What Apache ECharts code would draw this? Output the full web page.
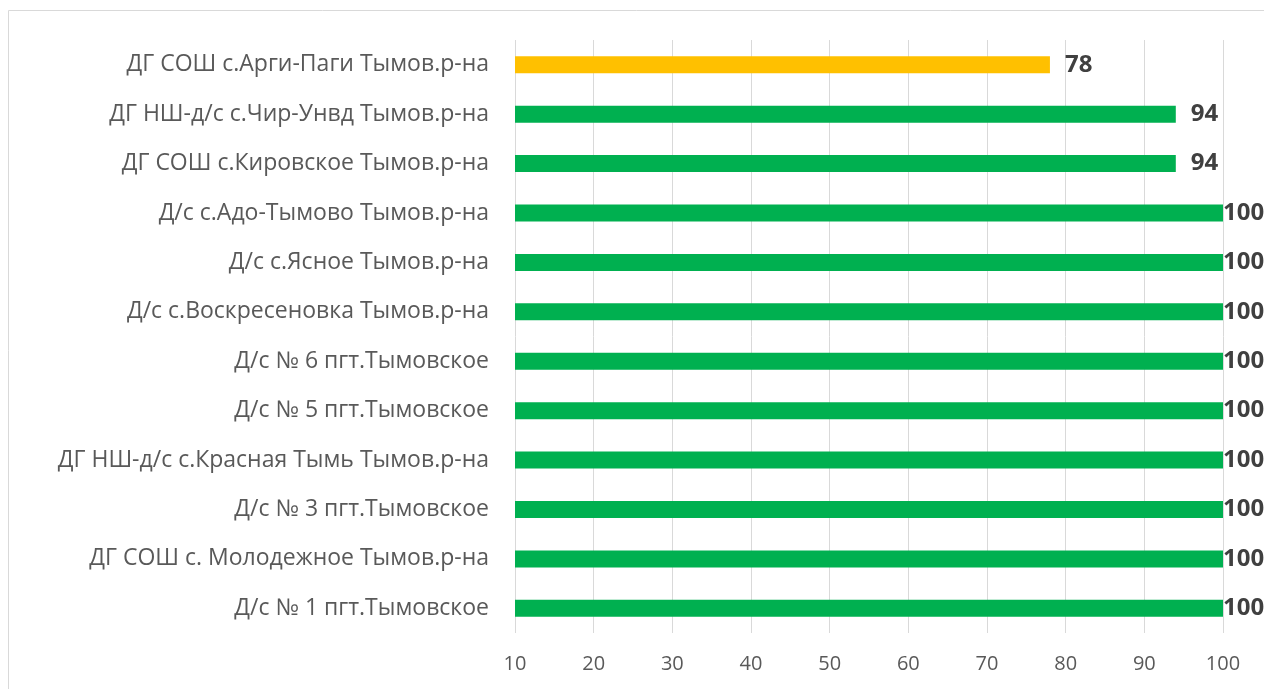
<!DOCTYPE html>
<html>
<head>
<meta charset="utf-8">
<script src="https://cdn.jsdelivr.net/npm/echarts@6/dist/echarts.min.js"></script>
<style>
    html, body { margin: 0; padding: 0; background: #fff; }
    #chart { width: 1264px; height: 689px; }
</style>
</head>
<body>
<div id="chart"></div>
<script>
// categories from top to bottom
const schools = [
    'ДГ СОШ с.Арги-Паги Тымов.р-на',
    'ДГ НШ-д/с с.Чир-Унвд Тымов.р-на',
    'ДГ СОШ с.Кировское Тымов.р-на',
    'Д/с с.Адо-Тымово Тымов.р-на',
    'Д/с с.Ясное Тымов.р-на',
    'Д/с с.Воскресеновка Тымов.р-на',
    'Д/с № 6 пгт.Тымовское',
    'Д/с № 5 пгт.Тымовское',
    'ДГ НШ-д/с с.Красная Тымь Тымов.р-на',
    'Д/с № 3 пгт.Тымовское',
    'ДГ СОШ с. Молодежное Тымов.р-на',
    'Д/с № 1 пгт.Тымовское'
]
const scores = [78, 94, 94, 100, 100, 100, 100, 100, 100, 100, 100, 100]
const barColors = ['#FFC000', '#00B050', '#00B050', '#00B050', '#00B050', '#00B050',
    '#00B050', '#00B050', '#00B050', '#00B050', '#00B050', '#00B050']
const xTicks = [10, 20, 30, 40, 50, 60, 70, 80, 90, 100]

let chart = echarts.init(document.getElementById('chart'))
let font = 'Open Sans, sans-serif'

let option = {
    animation: false,
    graphic: [{
        type: 'rect',
        shape: { x: 8.5, y: 10.5, width: 1300, height: 700 },
        style: { fill: 'none', stroke: '#d9d9d9', lineWidth: 1 },
        silent: true
    }],
    grid: {
        left: 515,
        right: 41,
        top: 40,
        bottom: 56,
        containLabel: false
    },
    xAxis: {
        type: 'value',
        min: xTicks[0],
        max: xTicks[xTicks.length - 1],
        interval: 10,
        axisLine: { show: false },
        axisTick: { show: false },
        splitLine: { lineStyle: { color: '#d9d9d9', width: 1 } },
        axisLabel: { color: '#595959', fontSize: 20, fontFamily: font, margin: 21 }
    },
    yAxis: {
        type: 'category',
        inverse: true,
        data: schools,
        axisLine: { show: false },
        axisTick: { show: false },
        axisLabel: { color: '#595959', fontSize: 23, fontFamily: font, margin: 26 }
    },
    series: [{
        type: 'bar',
        barWidth: 17,
        data: scores.map((v, i) => ({
            value: v,
            itemStyle: { color: barColors[i] },
            label: { distance: v === 100 ? 0 : 15 }
        })),
        label: {
            show: true,
            position: 'right',
            color: '#404040',
            fontSize: 24,
            fontWeight: 'bold',
            fontFamily: font
        }
    }]
}

chart.setOption(option)
</script>
</body>
</html>
